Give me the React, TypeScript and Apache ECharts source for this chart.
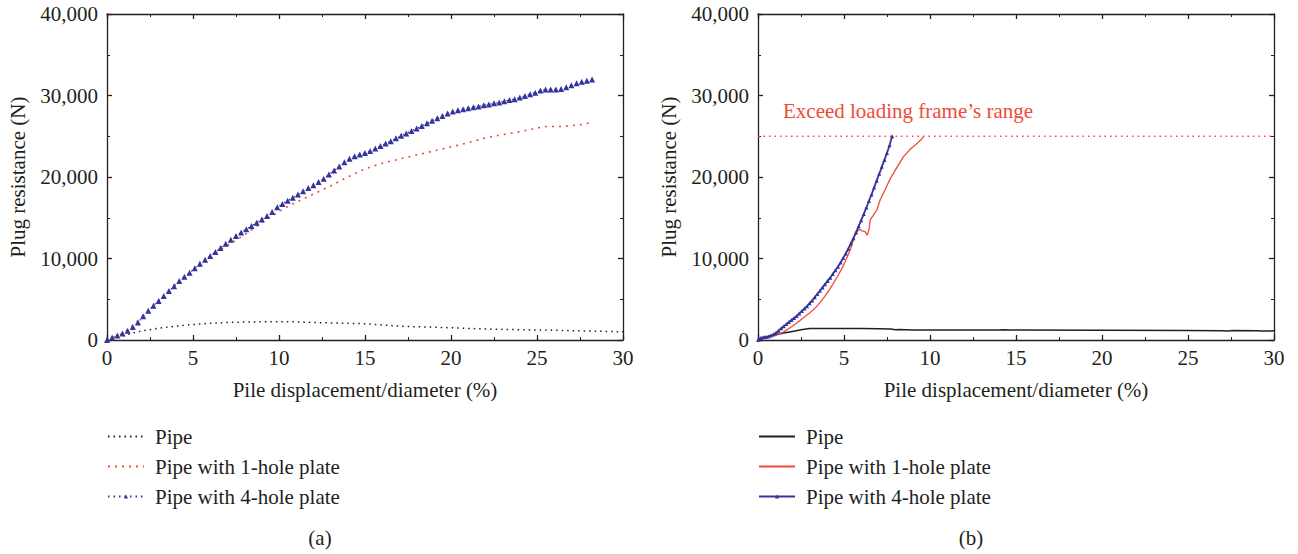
import React, { useEffect, useRef } from 'react';
import * as echarts from 'echarts';

// ---------- data: panel (a) ----------
const pipeA: [number, number][] = [
  [0, 0], [0.5, 250], [1, 550], [1.5, 850], [2, 1100], [3, 1450], [4, 1700], [5, 1900], [6, 2050],
  [7, 2150], [8, 2200], [9, 2230], [10, 2250], [11, 2220], [12, 2150], [13, 2100], [14, 2050],
  [15, 2000], [16, 1850], [17, 1700], [18, 1620], [19, 1580], [20, 1500], [21, 1420], [22, 1350],
  [23, 1300], [24, 1260], [25, 1230], [26, 1200], [27, 1150], [28, 1100], [29, 1050], [30, 1000],
];
const oneHoleA: [number, number][] = [
  [0, 0], [1, 900], [2, 2700], [3, 4600], [4, 6700], [5, 8500], [6, 10300], [7, 11600], [8, 12900],
  [9, 14400], [10, 15800], [11, 16900], [12, 17900], [13, 18900], [14, 20000], [15, 21000],
  [16, 21700], [17, 22200], [18, 22700], [19, 23200], [20, 23700], [21, 24200], [22, 24800],
  [23, 25200], [24, 25550], [25, 26000], [25.5, 26200], [26.5, 26200], [27.5, 26400], [28.2, 26700],
];
const fourHoleA: [number, number][] = [
  [0, 0], [0.3, 300], [0.6, 550], [0.9, 800], [1.2, 1150], [1.5, 1600], [1.8, 2150], [2.1, 2900],
  [2.4, 3600], [2.7, 4200], [3.0, 4800], [3.3, 5400], [3.6, 6000], [3.9, 6600], [4.2, 7250],
  [4.5, 7750], [4.8, 8250], [5.1, 8800], [5.4, 9350], [5.7, 9850], [6.0, 10300], [6.3, 10800],
  [6.6, 11300], [6.9, 11800], [7.2, 12300], [7.5, 12750], [7.8, 13200], [8.1, 13600], [8.4, 14000],
  [8.7, 14400], [9.0, 14800], [9.3, 15200], [9.6, 15700], [9.9, 16300], [10.2, 16700], [10.5, 17100],
  [10.8, 17450], [11.1, 17850], [11.4, 18250], [11.7, 18650], [12.0, 19000], [12.3, 19400],
  [12.6, 19800], [12.9, 20300], [13.2, 20800], [13.5, 21300], [13.8, 21800], [14.1, 22250],
  [14.4, 22550], [14.7, 22750], [15.0, 22950], [15.3, 23200], [15.6, 23500], [15.9, 23800],
  [16.2, 24100], [16.5, 24400], [16.8, 24750], [17.1, 25050], [17.4, 25350], [17.7, 25650],
  [18.0, 25950], [18.3, 26250], [18.6, 26600], [18.9, 26900], [19.2, 27200], [19.5, 27500],
  [19.8, 27800], [20.1, 28050], [20.4, 28200], [20.7, 28300], [21.0, 28450], [21.3, 28550],
  [21.6, 28650], [21.9, 28800], [22.2, 28900], [22.5, 29050], [22.8, 29150], [23.1, 29300],
  [23.4, 29450], [23.7, 29550], [24.0, 29750], [24.3, 29950], [24.6, 30150], [24.9, 30350],
  [25.2, 30600], [25.5, 30750], [25.8, 30750], [26.1, 30750], [26.4, 30800], [26.7, 31000],
  [27.0, 31250], [27.3, 31500], [27.6, 31700], [27.9, 31800], [28.2, 31950],
];

// ---------- data: panel (b) ----------
const pipeB: [number, number][] = [
  [0, 0], [0.3, 200], [0.7, 450], [1, 650], [1.5, 850], [2, 1050], [2.5, 1250], [3, 1400], [4, 1420],
  [5, 1400], [6, 1400], [7, 1380], [7.7, 1350], [8, 1250], [8.2, 1300], [9, 1230], [12, 1230],
  [14, 1220], [14.3, 1270], [14.6, 1220], [20, 1200], [25, 1180], [27, 1150], [27.3, 1100],
  [27.6, 1160], [29, 1130], [29.3, 1100], [30, 1120],
];
const oneHoleB: [number, number][] = [
  [0, 0], [0.5, 300], [1.08, 600], [1.5, 1000], [1.86, 1500], [2.2, 2000], [2.63, 2700], [3.0, 3300],
  [3.41, 4100], [3.8, 5100], [4.19, 6300], [4.6, 7700], [4.96, 9100], [5.35, 11000], [5.64, 12900],
  [5.8, 13400], [5.93, 13580], [6.05, 13400], [6.22, 13300], [6.35, 12880], [6.45, 13500],
  [6.52, 14700], [6.7, 15300], [6.91, 15950], [7.1, 17180], [7.4, 18500], [7.69, 19800], [8.0, 20900],
  [8.46, 22500], [8.8, 23300], [9.24, 24100], [9.5, 24600], [9.63, 25000],
];
const fourHoleB: [number, number][] = [
  [0, 0], [0.15, 250], [0.3, 330], [0.45, 380], [0.6, 430], [0.75, 550], [0.9, 700], [1.05, 900],
  [1.2, 1150], [1.35, 1450], [1.5, 1700], [1.65, 1950], [1.8, 2200], [1.95, 2450], [2.1, 2700],
  [2.25, 2950], [2.4, 3250], [2.55, 3550], [2.7, 3850], [2.85, 4150], [3.0, 4500], [3.15, 4850],
  [3.3, 5250], [3.45, 5650], [3.6, 6050], [3.75, 6450], [3.9, 6850], [4.05, 7250], [4.2, 7650],
  [4.35, 8100], [4.5, 8550], [4.65, 9000], [4.8, 9500], [4.95, 10050], [5.1, 10600], [5.25, 11200],
  [5.4, 11850], [5.55, 12500], [5.7, 13200], [5.85, 13950], [6.0, 14700], [6.15, 15450],
  [6.3, 16250], [6.45, 17050], [6.6, 17850], [6.75, 18700], [6.9, 19550], [7.05, 20400],
  [7.2, 21250], [7.35, 22100], [7.5, 22950], [7.65, 23900], [7.8, 25000],
];
const limitB: [number, number][] = [[0, 25000], [30, 25000]];

const seriesNames = ['Pipe', 'Pipe with 1-hole plate', 'Pipe with 4-hole plate'];
const limitText = 'Exceed loading frame\u2019s range';
const panelLabels = ['(a)', '(b)'];

const FONT = 'Liberation Serif';
const FS = 21;
const INK = '#231f20';
const RED = '#f04a3a';
const BLUE = '#35339c';

const axisLineStyle = { color: INK, width: 1.3 };

function xAxis(gridIndex: number, position: 'bottom' | 'top', main: boolean) {
  return {
    type: 'value',
    gridIndex,
    position,
    min: 0,
    max: 30,
    interval: 5,
    name: main ? 'Pile displacement/diameter (%)' : '',
    nameLocation: 'middle',
    nameGap: 39,
    nameTextStyle: { fontFamily: FONT, fontSize: FS, color: INK },
    axisLine: { show: true, onZero: false, lineStyle: axisLineStyle },
    axisTick: { show: true, inside: true, length: 5, lineStyle: axisLineStyle },
    minorTick: { show: true, splitNumber: 2, length: 3, lineStyle: { color: INK, width: 1 } },
    splitLine: { show: false },
    minorSplitLine: { show: false },
    axisLabel: { show: main, margin: 7, fontFamily: FONT, fontSize: FS, color: INK },
  };
}

function yAxis(gridIndex: number, position: 'left' | 'right', main: boolean) {
  return {
    type: 'value',
    gridIndex,
    position,
    min: 0,
    max: 40000,
    interval: 10000,
    name: main ? 'Plug resistance (N)' : '',
    nameLocation: 'middle',
    nameRotate: 90,
    nameGap: 79,
    nameTextStyle: { fontFamily: FONT, fontSize: FS, color: INK },
    axisLine: { show: true, onZero: false, lineStyle: axisLineStyle },
    axisTick: { show: true, inside: true, length: 5, lineStyle: axisLineStyle },
    minorTick: { show: true, splitNumber: 2, length: 3, lineStyle: { color: INK, width: 1 } },
    splitLine: { show: false },
    minorSplitLine: { show: false },
    axisLabel: {
      show: main,
      margin: 9,
      fontFamily: FONT,
      fontSize: FS,
      color: INK,
      formatter: (v: number) => v.toLocaleString('en-US'),
    },
  };
}

function lineSeries(
  name: string,
  data: [number, number][],
  axis: number,
  color: string,
  dash: any,
  width: number,
  symbol?: string,
  symbolSize?: number,
) {
  return {
    type: 'line',
    name,
    xAxisIndex: axis,
    yAxisIndex: axis,
    data,
    color,
    showSymbol: !!symbol,
    symbol: symbol || 'circle',
    symbolSize: symbolSize || 0,
    itemStyle: { color },
    lineStyle: { color, width, type: dash },
    z: 3,
  };
}

const legendBase = {
  orient: 'vertical',
  top: 426,
  padding: 0,
  itemWidth: 36,
  itemHeight: 5,
  itemGap: 9,
  textStyle: { fontFamily: FONT, fontSize: FS, color: INK, padding: [0, 0, 0, 6] },
};

function legendData(prefix: string) {
  return seriesNames.map((n, i) =>
    i === 2
      ? { name: prefix + n }
      : { name: prefix + n, itemStyle: { color: 'rgba(0,0,0,0)', borderColor: 'rgba(0,0,0,0)', borderWidth: 0 } },
  );
}

export default function App() {
  const ref = useRef<HTMLDivElement>(null);
  useEffect(() => {
    const chart = echarts.init(ref.current!, null, { renderer: 'svg' });
    const option: any = {
      animation: false,
      backgroundColor: '#ffffff',
      grid: [
        { left: 107, top: 14, width: 516, height: 326, containLabel: false },
        { left: 758, top: 14, width: 516, height: 326, containLabel: false },
      ],
      xAxis: [xAxis(0, 'bottom', true), xAxis(0, 'top', false), xAxis(1, 'bottom', true), xAxis(1, 'top', false)],
      yAxis: [yAxis(0, 'left', true), yAxis(0, 'right', false), yAxis(1, 'left', true), yAxis(1, 'right', false)],
      legend: [
        {
          ...legendBase,
          left: 107,
          data: legendData('a:'),
          formatter: (n: string) => n.slice(2),
        },
        {
          ...legendBase,
          left: 758,
          data: legendData('b:'),
          formatter: (n: string) => n.slice(2),
        },
      ],
      series: [
        lineSeries('a:' + seriesNames[0], pipeA, 0, INK, [1.5, 4], 1.5),
        lineSeries('a:' + seriesNames[1], oneHoleA, 0, RED, [2, 5], 1.6),
        lineSeries('a:' + seriesNames[2], fourHoleA, 0, BLUE, [1.5, 4], 1.2, 'triangle', 6),
        lineSeries('b:' + seriesNames[0], pipeB, 2, INK, 'solid', 1.5),
        lineSeries('b:' + seriesNames[1], oneHoleB, 2, RED, 'solid', 1.3),
        lineSeries('b:' + seriesNames[2], fourHoleB, 2, BLUE, 'solid', 1.8, 'triangle', 4),
        lineSeries('limit', limitB, 2, RED, [1.5, 4], 1.5),
      ],
      graphic: [
        {
          type: 'text',
          left: 783,
          top: 100,
          style: { text: limitText, fontFamily: FONT, fontSize: FS, fill: RED },
        },
        {
          type: 'text',
          x: 320,
          y: 538,
          style: { text: panelLabels[0], fontFamily: FONT, fontSize: FS, fill: INK, align: 'center', verticalAlign: 'middle' },
        },
        {
          type: 'text',
          x: 971,
          y: 538,
          style: { text: panelLabels[1], fontFamily: FONT, fontSize: FS, fill: INK, align: 'center', verticalAlign: 'middle' },
        },
      ],
    };
    chart.setOption(option);
    return () => chart.dispose();
  }, []);
  return (
    <div
      ref={ref}
      style={{ position: 'absolute', left: 0, top: 0, width: 1298, height: 554, background: '#fff' }}
    />
  );
}
